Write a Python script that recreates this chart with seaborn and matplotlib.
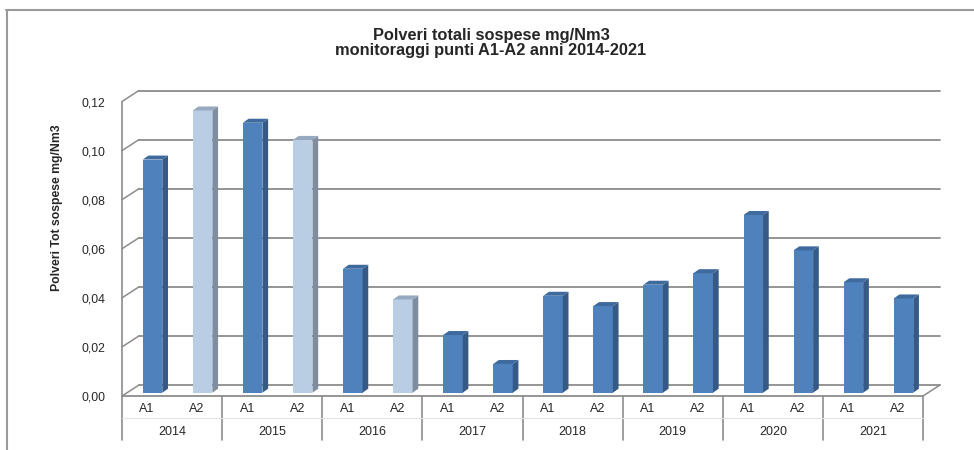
"""Polveri totali sospese - colonne pseudo-3D stile Excel."""

import matplotlib
matplotlib.use("Agg")
import matplotlib.pyplot as plt
import matplotlib.transforms as mtransforms
from matplotlib.lines import Line2D
from matplotlib.patches import Polygon
import pandas as pd
import seaborn as sns

sns.set_style("white")
plt.rcParams["font.family"] = ["Liberation Sans", "DejaVu Sans"]

# --- dati ---------------------------------------------------------------
years = ["2014", "2015", "2016", "2017", "2018", "2019", "2020", "2021"]
points = ["A1", "A2"]
a1_values = [0.095, 0.110, 0.0505, 0.0235, 0.0395, 0.044, 0.0724, 0.045]
a2_values = [0.115, 0.103, 0.038, 0.0117, 0.0353, 0.0487, 0.058, 0.0384]
light_a2_years = ["2014", "2015", "2016"]
y_ticks = [0.00, 0.02, 0.04, 0.06, 0.08, 0.10, 0.12]

title = "Polveri totali sospese mg/Nm3\nmonitoraggi punti A1-A2 anni 2014-2021"
y_label = "Polveri Tot sospese mg/Nm3"

# colori (fronte, lato, cima)
DARK = ("#4F81BD", "#365A86", "#3E6A9E")
LIGHT = ("#B9CDE5", "#7F8D9E", "#97A9BF")
GRID = "#8C8C8C"

rows = []
for y, v1, v2 in zip(years, a1_values, a2_values):
    rows.append({"cat": f"{y} A1", "year": y, "point": "A1", "value": v1})
    rows.append({"cat": f"{y} A2", "year": y, "point": "A2", "value": v2})
df = pd.DataFrame(rows)
shade = {r.cat: (LIGHT if (r.point == "A2" and r.year in light_a2_years) else DARK)
         for r in df.itertuples()}
palette = {c: s[0] for c, s in shade.items()}

W, H, DPI = 974, 450, 100
fig = plt.figure(figsize=(W / DPI, H / DPI), dpi=DPI)
left_px, right_px, zero_px, top_px = 122, 923, 396, 101.5
ax = fig.add_axes([left_px / W, (H - zero_px) / H,
                   (right_px - left_px) / W, (zero_px - top_px) / H])

sns.barplot(data=df, x="cat", y="value", hue="cat", palette=palette,
            width=0.39, legend=False, ax=ax, saturation=1, zorder=3)

n = len(df)
xmin, xmax = -0.5, n - 0.5
ax.set_xlim(xmin, xmax)
ax.set_ylim(0, 0.12)
for s in ax.spines.values():
    s.set_visible(False)

# pixel -> unita' dati
sx = (right_px - left_px) / (xmax - xmin)
sy = (zero_px - top_px) / 0.12

# piano posteriore (griglia) e profondita' delle barre
gdx, gdy = 17 / sx, 11 / sy
bdx, bdy = 5.7 / sx, 4.0 / sy
bar_off = ax.transData + mtransforms.ScaledTranslation(5.5 / DPI, 3.3 / DPI,
                                                       fig.dpi_scale_trans)

cats = list(df["cat"])
for p in ax.patches:
    x0, w, h = p.get_x(), p.get_width(), p.get_height()
    x1 = x0 + w
    idx = int(round(x0 + w / 2))
    front, side, top = shade[cats[idx]]
    p.set_transform(bar_off)
    p.set_clip_on(False)
    p.set_edgecolor("none")
    ax.add_patch(Polygon([(x1, 0), (x1 + bdx, bdy), (x1 + bdx, h + bdy), (x1, h)],
                         closed=True, facecolor=side, edgecolor="none",
                         transform=bar_off, clip_on=False, zorder=3))
    ax.add_patch(Polygon([(x0, h), (x0 + bdx, h + bdy), (x1 + bdx, h + bdy), (x1, h)],
                         closed=True, facecolor=top, edgecolor="none",
                         transform=bar_off, clip_on=False, zorder=3))

# griglia sulla parete posteriore + diagonali della parete laterale
for v in y_ticks:
    ax.plot([xmin + gdx, xmax + gdx], [v + gdy, v + gdy], color=GRID, lw=1.3,
            clip_on=False, zorder=1)
    ax.plot([xmin, xmin + gdx], [v, v + gdy], color=GRID, lw=1.1,
            clip_on=False, zorder=1)
ax.plot([xmin, xmin], [0, 0.12], color=GRID, lw=1.2, clip_on=False, zorder=1)
ax.plot([xmin, xmax], [0, 0], color=GRID, lw=1.3, clip_on=False, zorder=4)
ax.plot([xmax, xmax + gdx], [0, gdy], color=GRID, lw=1.1, clip_on=False, zorder=1)

# asse y
ax.set_yticks(y_ticks)
ax.set_yticklabels([f"{v:.2f}".replace(".", ",") for v in y_ticks], fontsize=8.8)
ax.tick_params(axis="y", length=0, pad=12)
ax.set_ylabel("")
fig.text(57 / W, (H - 208) / H, y_label, rotation=90, ha="center", va="center",
         fontsize=8.8, fontweight="bold")

# asse categorie a due livelli
ax.set_xticks(range(n))
ax.set_xticklabels(list(df["point"]), fontsize=9)
ax.tick_params(axis="x", length=0, pad=5)
ax.set_xlabel("")
blend = mtransforms.blended_transform_factory(ax.transData, ax.transAxes)
axh = zero_px - top_px
for i, y in enumerate(years):
    ax.text(2 * i + 0.5, (zero_px - 432) / axh, y, transform=blend,
            ha="center", va="center", fontsize=9)
for i in range(len(years) + 1):
    xb = xmin + 2 * i
    ax.add_line(Line2D([xb, xb], [0, (zero_px - 440) / axh], transform=blend,
                       color=GRID, lw=1.2, clip_on=False))
ax.add_line(Line2D([xmin, xmax], [(zero_px - 418) / axh] * 2, transform=blend,
                   color="#E3E3E3", lw=0.8, clip_on=False))

# titolo
fig.text(491 / W, (H - 43) / H, title, ha="center", va="center",
         fontsize=11.8, fontweight="bold", linespacing=1.05)

# cornice del grafico
fig.add_artist(Line2D([6 / W, 1], [(H - 10) / H] * 2, color="#9A9A9A", lw=1.5))
fig.add_artist(Line2D([7 / W] * 2, [0, (H - 10) / H], color="#9A9A9A", lw=1.5))

fig.savefig("out.png", dpi=DPI, facecolor="white")
plt.close(fig)
